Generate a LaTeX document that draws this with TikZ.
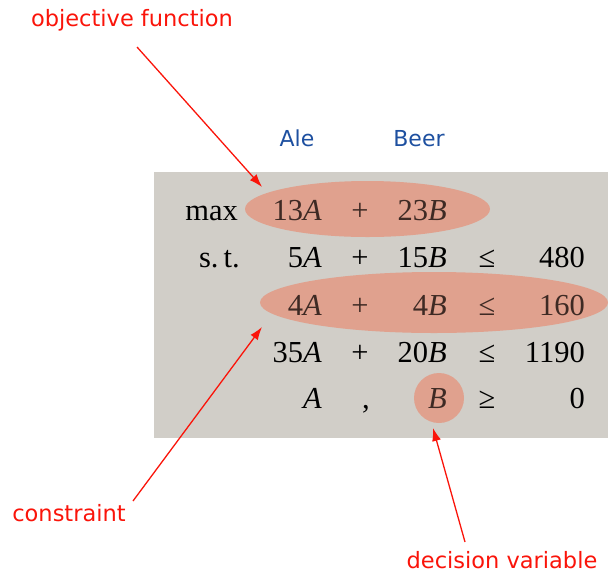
\documentclass[tikz,border=0pt]{standalone}
\usepackage{fontspec}
\setmainfont{Liberation Serif}
\newfontfamily\calloutfont{DejaVu Sans}
\usetikzlibrary{arrows.meta}

\definecolor{lpgray}{RGB}{209,206,200}
\definecolor{lphilite}{RGB}{224,161,142}
\definecolor{lphitext}{RGB}{62,42,36}
\definecolor{lpblue}{RGB}{30,80,160}
\definecolor{lpred}{RGB}{250,20,10}

\tikzset{
  lp/.style={font=\fontsize{30.5}{34}\selectfont, anchor=base east, inner sep=0pt},
  lpop/.style={font=\fontsize{30.5}{34}\selectfont, anchor=base, inner sep=0pt},
  callout/.style={font=\calloutfont\fontsize{22.5}{26}\selectfont, text=lpred, anchor=base},
  heading/.style={font=\calloutfont\fontsize{22}{26}\selectfont, text=lpblue, anchor=base},
  pointer/.style={lpred, line width=1.3pt, -{Latex[length=13pt,width=9pt]}},
}

\begin{document}
\begin{tikzpicture}[x=1pt,y=-1pt]
    \useasboundingbox (0,0) rectangle (608,574);

    % the LP sits on a gray panel
    \fill[lpgray] (154,172) rectangle (608,438);
    \fill[lphilite] (367.5,209) ellipse (122.5 and 28);
    \fill[lphilite] (434,302.5) ellipse (174 and 30.5);
    \fill[lphilite] (439,398) circle (25);

    % column headers
    \node[heading] (ale) at (297,146) {Ale};
    \node[heading] (beer) at (419,146) {Beer};

    % objective
    \node[lp] (max) at (238,220) {max};
    \node[lp,text=lphitext] (obja) at (322,220) {13\textit{A}};
    \node[lpop,text=lphitext] (objp) at (360,220) {+};
    \node[lp,text=lphitext] (objb) at (447,220) {23\textit{B}};

    % constraints
    \node[lp] (st) at (240,267) {s.\,t.};
    \node[lp] (c1a) at (322,267) {5\textit{A}};
    \node[lpop] (c1p) at (360,267) {+};
    \node[lp] (c1b) at (447,267) {15\textit{B}};
    \node[lpop] (c1r) at (487,267) {≤};
    \node[lp] (c1n) at (585,267) {480};

    \node[lp,text=lphitext] (c2a) at (322,315) {4\textit{A}};
    \node[lpop,text=lphitext] (c2p) at (360,315) {+};
    \node[lp,text=lphitext] (c2b) at (447,315) {4\textit{B}};
    \node[lpop,text=lphitext] (c2r) at (487,315) {≤};
    \node[lp,text=lphitext] (c2n) at (585,315) {160};

    \node[lp] (c3a) at (322,362) {35\textit{A}};
    \node[lpop] (c3p) at (360,362) {+};
    \node[lp] (c3b) at (447,362) {20\textit{B}};
    \node[lpop] (c3r) at (487,362) {≤};
    \node[lp] (c3n) at (585,362) {1190};

    \node[lp] (nna) at (322,408) {\textit{A}};
    \node[lpop] (nnc) at (366,408) {,};
    \node[lp,text=lphitext] (nnb) at (447,408) {\textit{B}};
    \node[lpop] (nnr) at (487,408) {≥};
    \node[lp] (nnn) at (585,408) {0};

    % callouts
    \node[callout] (obj) at (132,26) {objective function};
    \node[callout] (con) at (69,521) {constraint};
    \node[callout] (dec) at (502,568) {decision variable};
    \coordinate (objtail) at (137,47);
    \coordinate (objtip) at (262,187);
    \coordinate (contail) at (133,501);
    \coordinate (contip) at (262,327);
    \coordinate (dectail) at (465,542);
    \coordinate (dectip) at (433,428);
    \draw[pointer] (objtail) -- (objtip);
    \draw[pointer] (contail) -- (contip);
    \draw[pointer] (dectail) -- (dectip);
\end{tikzpicture}
\end{document}
